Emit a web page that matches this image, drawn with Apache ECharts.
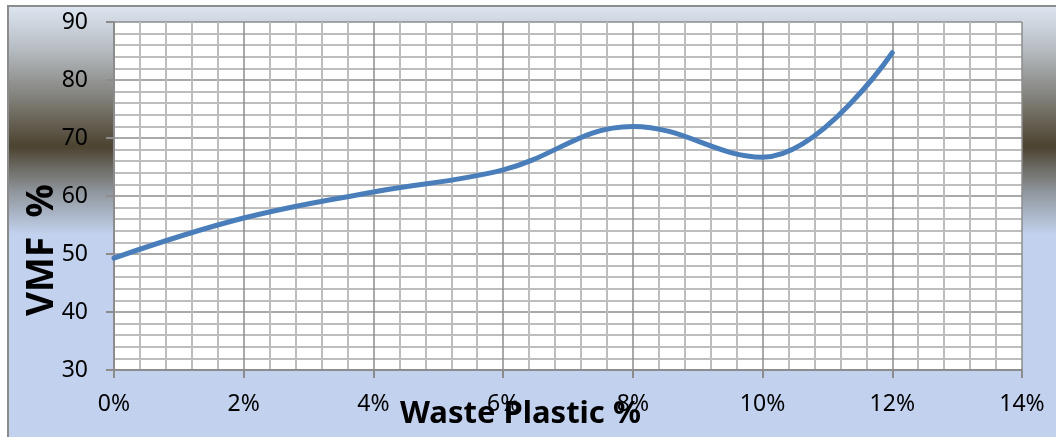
<!DOCTYPE html>
<html>
<head>
<meta charset="utf-8">
<script src="https://cdn.jsdelivr.net/npm/echarts@6/dist/echarts.min.js"></script>
<style>
  html, body { margin: 0; padding: 0; background: #fff; }
  #chart { width: 1056px; height: 437px; }
</style>
</head>
<body>
<div id="chart"></div>
<script>
// waste plastic content (%) and VMF (%)
const plastic = [0, 2, 4, 6, 8, 10, 12];
const vmf = [49.3, 56.2, 60.7, 64.5, 72.0, 66.7, 84.7];

const chart = echarts.init(document.getElementById('chart'));
const font = 'Noto Sans';

const option = {
  animation: false,
  graphic: [
    {
      type: 'rect', z: -10,
      shape: { x: 8, y: 6, width: 1060, height: 440 },
      style: {
        fill: new echarts.graphic.LinearGradient(0, 0, 0, 1, [
          { offset: 0, color: '#dee6f2' },
          { offset: 0.1, color: '#b6bcc2' },
          { offset: 0.32, color: '#4c4330' },
          { offset: 0.42, color: '#8e949a' },
          { offset: 0.52, color: '#c2d2ee' },
          { offset: 1, color: '#c2d2ee' }
        ]),
        stroke: '#8c8c8c', lineWidth: 2
      }
    },
    {
      type: 'text', z: 100,
      x: 400, y: 414,
      style: { text: 'Waste Plastic %', fontFamily: font, fontWeight: 'bold', fontSize: 31, fill: '#000', verticalAlign: 'middle' }
    },
    {
      type: 'text', z: 100,
      rotation: Math.PI / 2,
      x: 42, y: 316,
      style: { text: 'VMF  %', fontFamily: font, fontWeight: 'bold', fontSize: 37, fill: '#000', verticalAlign: 'middle', align: 'left' }
    }
  ],
  grid: {
    left: 114, top: 22, width: 908, height: 348,
    show: true, backgroundColor: '#fff', borderWidth: 0
  },
  xAxis: {
    type: 'value', min: 0, max: 14, interval: 2,
    axisLine: { show: true, lineStyle: { color: '#8c8c8c', width: 2 } },
    axisTick: { show: true, length: 8, lineStyle: { color: '#8c8c8c', width: 2 } },
    axisLabel: { formatter: '{value}%', margin: 23, fontFamily: font, fontSize: 23, color: '#000' },
    splitLine: { show: true, lineStyle: { color: '#8c8c8c', width: 1.5 } },
    minorTick: { show: false, splitNumber: 5 },
    minorSplitLine: { show: true, lineStyle: { color: '#bdbdbd', width: 2 } }
  },
  yAxis: {
    type: 'value', min: 30, max: 90, interval: 10,
    axisLine: { show: true, lineStyle: { color: '#8c8c8c', width: 2 } },
    axisTick: { show: true, length: 8, lineStyle: { color: '#8c8c8c', width: 2 } },
    axisLabel: { margin: 26, fontFamily: font, fontSize: 23, color: '#000' },
    splitLine: { show: true, lineStyle: { color: '#8c8c8c', width: 1.5 } },
    minorTick: { show: false, splitNumber: 5 },
    minorSplitLine: { show: true, lineStyle: { color: '#bdbdbd', width: 2 } }
  },
  series: [{
    type: 'line',
    data: plastic.map((p, i) => [p, vmf[i]]),
    smooth: 0.4,
    showSymbol: false,
    lineStyle: { color: '#4a7ebb', width: 5, cap: 'round' }
  }]
};

chart.setOption(option);
</script>
</body>
</html>
